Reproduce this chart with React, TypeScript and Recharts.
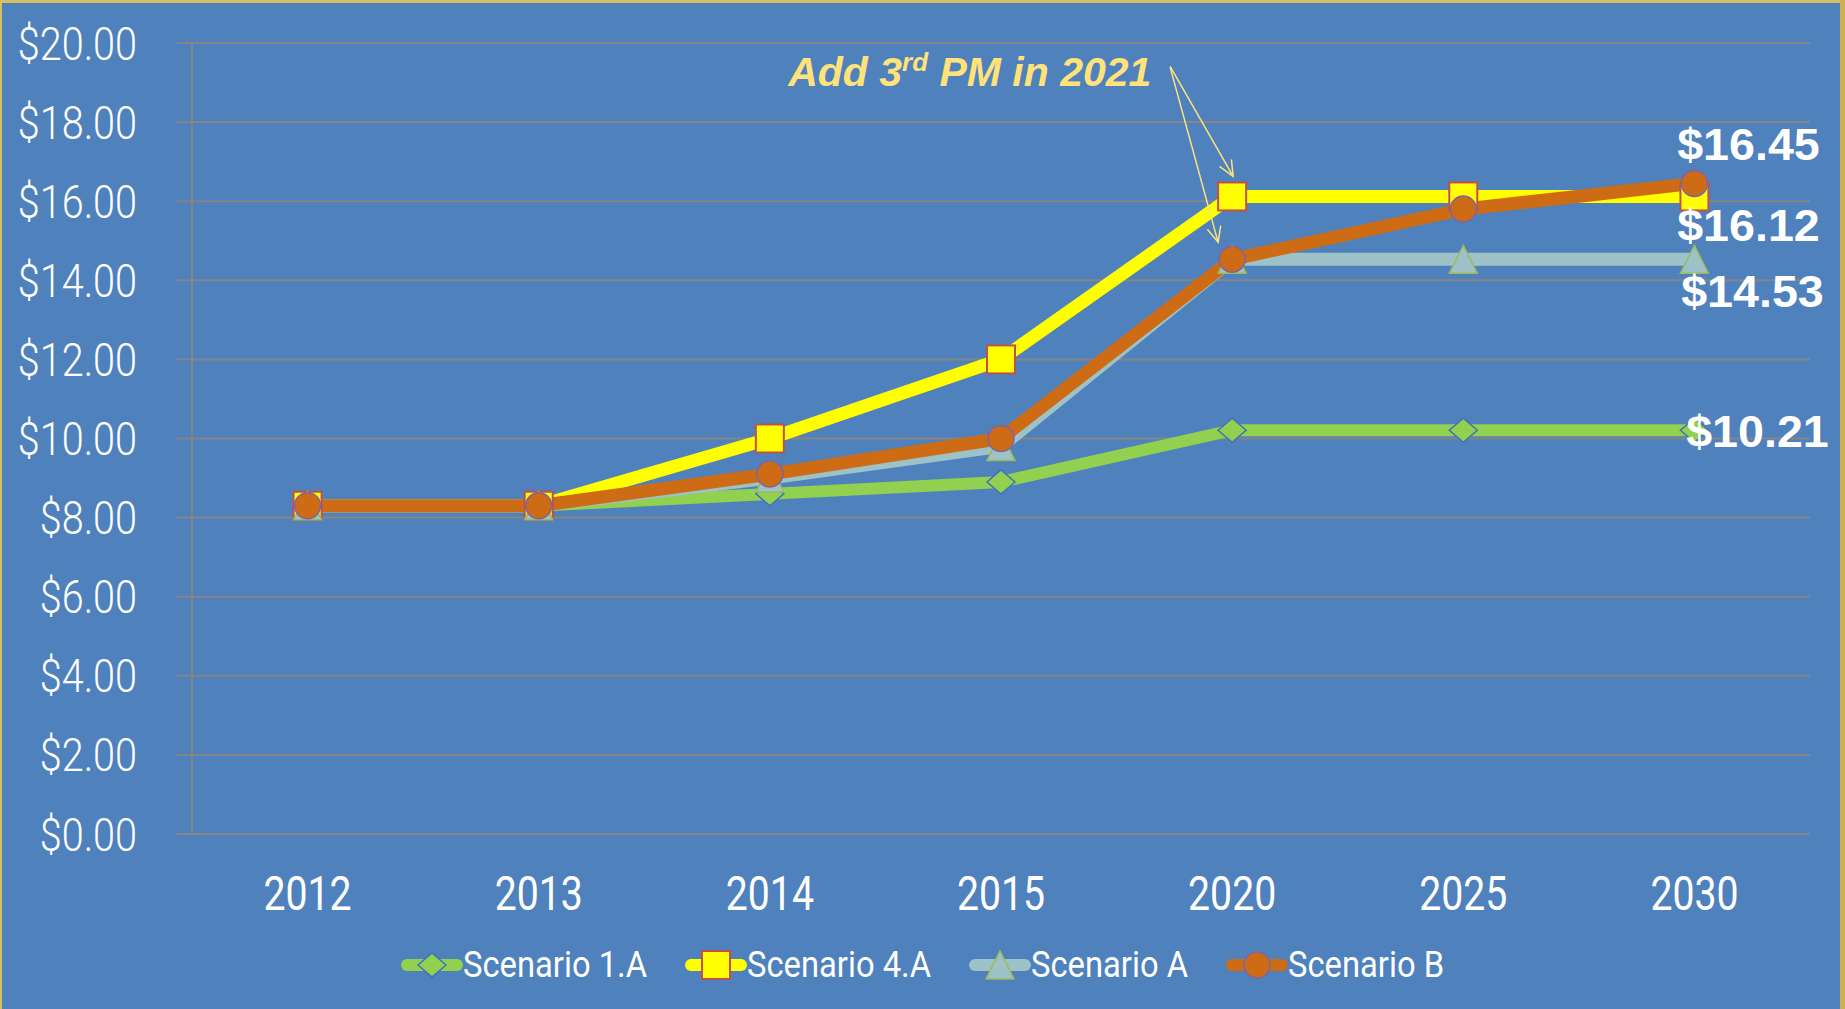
import React from 'react';
import {
  LineChart,
  Line,
  XAxis,
  YAxis,
  CartesianGrid,
  Legend,
  LabelList,
  ReferenceDot,
} from 'recharts';

const years = ['2012', '2013', '2014', '2015', '2020', '2025', '2030'];
const scenario1A = [8.3, 8.3, 8.6, 8.9, 10.21, 10.21, 10.21];
const scenario4A = [8.3, 8.3, 10.0, 12.0, 16.12, 16.12, 16.12];
const scenarioA = [8.3, 8.3, 9.0, 9.8, 14.53, 14.53, 14.53];
const scenarioB = [8.3, 8.3, 9.1, 10.0, 14.53, 15.8, 16.45];
const yTicks = [0, 2, 4, 6, 8, 10, 12, 14, 16, 18, 20];
const boundaryTicks = [0, 1, 2, 3, 4, 5, 6, 7];
const seriesNames = ['Scenario 1.A', 'Scenario 4.A', 'Scenario A', 'Scenario B'];

const data = years.map((year, i) => ({
  year,
  s1A: scenario1A[i],
  s4A: scenario4A[i],
  sA: scenarioA[i],
  sB: scenarioB[i],
}));

const W = 1845;
const H = 1009;
const BG = '#4F81BD';
const GOLD = '#D6BE62';
const GRID = '#858585';
const ROBOTO = 'Roboto, "Liberation Sans", sans-serif';
const ARIAL = '"Liberation Sans", Arial, sans-serif';
const ANNO = '#FFE27A';

const C1 = '#92D050';
const C4 = '#FFFF00';
const CA = '#9DC3C9';
const CB = '#CD6C15';

const measure = (text: string, font: string) => {
  if (typeof document === 'undefined') return text.length * 20;
  const c = document.createElement('canvas').getContext('2d');
  if (!c) return text.length * 20;
  c.font = font;
  return c.measureText(text).width;
};

const Diamond = ({ cx, cy }: any) =>
  cx == null ? null : (
    <path
      d={`M${cx},${cy - 12} L${cx + 14},${cy} L${cx},${cy + 12} L${cx - 14},${cy} Z`}
      fill={C1}
      stroke="#3F73B8"
      strokeWidth={1.5}
    />
  );
const Square = ({ cx, cy }: any) =>
  cx == null ? null : (
    <rect x={cx - 14} y={cy - 14} width={28} height={28} fill={C4} stroke="#C0504D" strokeWidth={2} />
  );
const Triangle = ({ cx, cy }: any) =>
  cx == null ? null : (
    <path
      d={`M${cx},${cy - 14} L${cx + 14},${cy + 14} L${cx - 14},${cy + 14} Z`}
      fill={CA}
      stroke="#9BBB59"
      strokeWidth={1.5}
    />
  );
const Circle = ({ cx, cy }: any) =>
  cx == null ? null : <circle cx={cx} cy={cy} r={13} fill={CB} stroke="#8064A2" strokeWidth={1.5} />;

const YTick = ({ x, y, payload }: any) => (
  <g transform={`translate(${x},${y})`}>
    <text
      x={0}
      y={0}
      dy="0.36em"
      textAnchor="end"
      transform="scale(0.86,1)"
      fill="#FFFFFF"
      fontFamily={ROBOTO}
      fontWeight={300}
      fontSize={46}
    >
      {`$${Number(payload.value).toFixed(2)}`}
    </text>
  </g>
);

const XTick = ({ x, y, payload }: any) => (
  <g transform={`translate(${x},${y})`}>
    <text x={0} y={0} dy="0.71em" textAnchor="middle" transform="scale(0.8,1)" fill="#FFFFFF" fontFamily={ROBOTO} fontSize={49}>
      {payload.value}
    </text>
  </g>
);

const endLabel = (dx: number, dy: number) => (props: any) => {
  const { x, y, index, value } = props;
  if (index !== years.length - 1) return null;
  return (
    <g transform={`translate(${x + dx},${y + dy})`}>
      <text
        x={0}
        y={0}
        textAnchor="middle"
        transform="scale(1.06,1)"
        fill="#FFFFFF"
        fontFamily={ARIAL}
        fontWeight="bold"
        fontSize={44}
      >
        {`$${Number(value).toFixed(2)}`}
      </text>
    </g>
  );
};

const arrow = (x1: number, y1: number, x2: number, y2: number) => {
  const a = Math.atan2(y2 - y1, x2 - x1);
  const L = 17;
  const s = (24 * Math.PI) / 180;
  const p1 = [x2 - L * Math.cos(a - s), y2 - L * Math.sin(a - s)];
  const p2 = [x2 - L * Math.cos(a + s), y2 - L * Math.sin(a + s)];
  return (
    <g>
      <line x1={x1} y1={y1} x2={x2} y2={y2} stroke={ANNO} strokeWidth={1.5} />
      <polyline
        points={`${p1[0]},${p1[1]} ${x2},${y2} ${p2[0]},${p2[1]}`}
        fill="none"
        stroke={ANNO}
        strokeWidth={1.5}
      />
    </g>
  );
};

const AnnoSquare = (props: any) => {
  const { cx, cy } = props;
  if (cx == null) return null;
  return (
    <g>
      <text x={cx - 444} y={cy - 110} fill={ANNO} fontFamily={ARIAL} fontWeight="bold" fontStyle="italic" fontSize={41}>
        <tspan>Add 3</tspan>
        <tspan fontSize={26} dy={-15}>rd</tspan>
        <tspan dy={15}> PM in 2021</tspan>
      </text>
      {arrow(cx - 62, cy - 130, cx + 1, cy - 20)}
    </g>
  );
};

const AnnoCircle = (props: any) => {
  const { cx, cy } = props;
  if (cx == null) return null;
  return <g>{arrow(cx - 62, cy - 192, cx - 14, cy - 17)}</g>;
};

const legendItems = [
  { name: seriesNames[0], color: C1, Marker: Diamond },
  { name: seriesNames[1], color: C4, Marker: Square },
  { name: seriesNames[2], color: CA, Marker: Triangle },
  { name: seriesNames[3], color: CB, Marker: Circle },
];

const LEGEND_FONT_SIZE = 37;
const LEGEND_SCALE = 0.885;

const LegendContent = () => (
  <div
    style={{
      display: 'flex',
      justifyContent: 'center',
      alignItems: 'center',
      height: 60,
      width: W,
      gap: 38,
    }}
  >
    {legendItems.map(({ name, color, Marker }) => {
      const w = measure(name, `${LEGEND_FONT_SIZE}px Roboto`) * LEGEND_SCALE;
      return (
        <div key={name} style={{ display: 'flex', alignItems: 'center' }}>
          <svg width={62} height={32} style={{ display: 'block' }}>
            <line x1={6} y1={16} x2={56} y2={16} stroke={color} strokeWidth={12} strokeLinecap="round" />
            <Marker cx={31} cy={16} />
          </svg>
          <div style={{ width: w, overflow: 'visible', whiteSpace: 'nowrap' }}>
            <span
              style={{
                display: 'inline-block',
                color: '#FFFFFF',
                fontFamily: ROBOTO,
                fontSize: LEGEND_FONT_SIZE,
                lineHeight: '40px',
                transform: `scaleX(${LEGEND_SCALE})`,
                transformOrigin: 'left center',
              }}
            >
              {name}
            </span>
          </div>
        </div>
      );
    })}
  </div>
);

export default function App() {
  return (
    <div style={{ position: 'absolute', left: 0, top: 0, width: W, height: H, background: BG, overflow: 'hidden' }}>
      <LineChart width={W} height={H} data={data} margin={{ top: 43, right: 35, left: 0, bottom: 25 }}>
        <CartesianGrid horizontal vertical={false} stroke={GRID} strokeWidth={2} />
        <XAxis
          xAxisId="bounds"
          type="number"
          domain={[0, 7]}
          ticks={boundaryTicks}
          tick={false}
          tickLine={{ stroke: GRID, strokeWidth: 2 }}
          tickSize={15}
          axisLine={false}
          height={0}
          allowDataOverflow
        />
        <XAxis
          dataKey="year"
          scale="band"
          tickLine={false}
          axisLine={{ stroke: GRID, strokeWidth: 2 }}
          tickSize={15}
          tickMargin={26}
          height={90}
          interval={0}
          tick={<XTick />}
        />
        <YAxis
          domain={[0, 20]}
          ticks={yTicks}
          width={192}
          tickSize={15}
          tickMargin={40}
          tickLine={{ stroke: GRID, strokeWidth: 2 }}
          axisLine={{ stroke: GRID, strokeWidth: 2 }}
          tick={<YTick />}
        />
        <Legend
          verticalAlign="bottom"
          content={<LegendContent />}
          wrapperStyle={{ left: 0, width: W, bottom: 14 }}
        />
        <Line
          name={seriesNames[0]}
          dataKey="s1A"
          stroke={C1}
          strokeWidth={12}
          dot={<Diamond />}
          activeDot={false}
          isAnimationActive={false}
        >
          <LabelList dataKey="s1A" content={endLabel(63, 17)} />
        </Line>
        <Line
          name={seriesNames[1]}
          dataKey="s4A"
          stroke={C4}
          strokeWidth={13}
          dot={<Square />}
          activeDot={false}
          isAnimationActive={false}
        >
          <LabelList dataKey="s4A" content={endLabel(54, 45)} />
        </Line>
        <Line
          name={seriesNames[2]}
          dataKey="sA"
          stroke={CA}
          strokeWidth={13}
          dot={<Triangle />}
          activeDot={false}
          isAnimationActive={false}
        >
          <LabelList dataKey="sA" content={endLabel(58, 48)} />
        </Line>
        <Line
          name={seriesNames[3]}
          dataKey="sB"
          stroke={CB}
          strokeWidth={13}
          dot={<Circle />}
          activeDot={false}
          isAnimationActive={false}
        >
          <LabelList dataKey="sB" content={endLabel(54, -23)} />
        </Line>
        <ReferenceDot x={years[4]} y={scenario4A[4]} shape={<AnnoSquare />} />
        <ReferenceDot x={years[4]} y={scenarioB[4]} shape={<AnnoCircle />} />
      </LineChart>
      <div style={{ position: 'absolute', left: 0, top: 0, width: W, height: 3, background: GOLD }} />
      <div style={{ position: 'absolute', left: 0, top: 0, width: 2, height: H, background: GOLD }} />
      <div style={{ position: 'absolute', right: 0, top: 0, width: 5, height: H, background: '#CDB050' }} />
    </div>
  );
}
